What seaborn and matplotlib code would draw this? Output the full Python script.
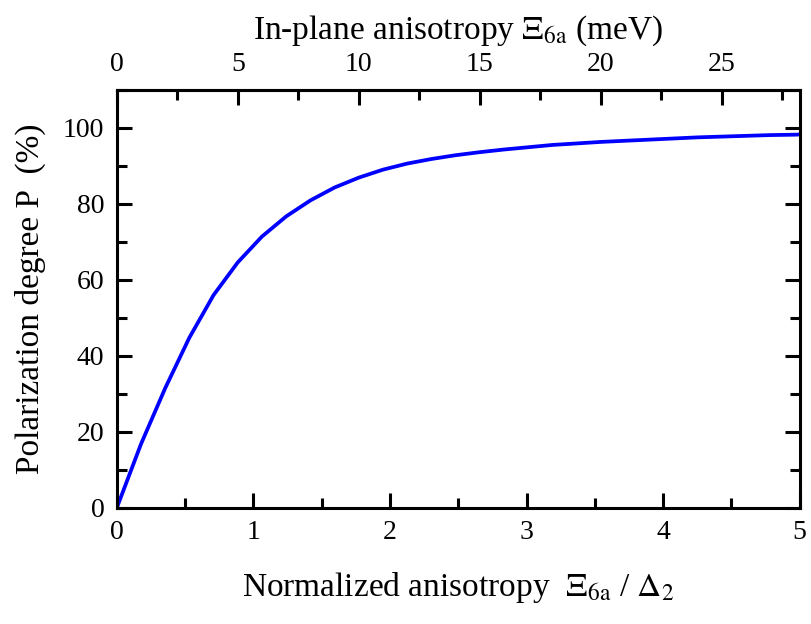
import numpy as np
import pandas as pd
import matplotlib
matplotlib.use('Agg')
import matplotlib.pyplot as plt
import seaborn as sns
from matplotlib.ticker import MultipleLocator, FixedLocator

# 曲线数据：按 1 meV 步长读取（最后一点到右边界）
xi_mev = [0, 1, 2, 3, 4, 5, 6, 7, 8, 9, 10, 11, 12, 13, 14, 15, 16, 17, 18, 19,
          20, 21, 22, 23, 24, 25, 26, 27, 28, 28.225]
pol_deg = [0, 16.8, 31.5, 44.8, 56.0, 64.6, 71.4, 76.7, 80.9, 84.3, 86.9, 89.0,
           90.6, 91.8, 92.8, 93.6, 94.3, 94.9, 95.5, 95.9, 96.3, 96.6, 96.9,
           97.2, 97.5, 97.7, 97.9, 98.1, 98.2, 98.25]
top_ticks = [0, 5, 10, 15, 20, 25]
delta2_mev = 5.645  # Δ2，上下坐标换算

df = pd.DataFrame({'meV': xi_mev, 'P': pol_deg})
df['norm'] = df['meV'] / delta2_mev

sns.set_theme(style='ticks')
plt.rcParams['font.family'] = ['Liberation Serif', 'DejaVu Serif']
plt.rcParams['mathtext.fontset'] = 'stix'
plt.rcParams['axes.linewidth'] = 2.2
plt.rcParams['text.color'] = 'black'
plt.rcParams['axes.labelcolor'] = 'black'
plt.rcParams['xtick.color'] = 'black'
plt.rcParams['ytick.color'] = 'black'

fig, ax = plt.subplots(figsize=(8.11, 6.24), dpi=100)
fig.subplots_adjust(left=0.144, right=0.986, top=0.856, bottom=0.186)

sns.lineplot(data=df, x='norm', y='P', color='#0000ff', lw=2.7, ax=ax)

ax.set_xlim(0, 5)
ax.set_ylim(0, 110)
ax.xaxis.set_major_locator(MultipleLocator(1))
ax.xaxis.set_minor_locator(MultipleLocator(0.5))
ax.yaxis.set_major_locator(MultipleLocator(20))
ax.yaxis.set_minor_locator(MultipleLocator(10))
ax.tick_params(which='both', direction='in', right=True, top=False,
               width=2.2, labelsize=20, pad=9)
ax.tick_params(which='major', length=11)
ax.tick_params(which='minor', length=7)
for s in ax.spines.values():
    s.set_visible(True)
    s.set_color('black')

ax.set_xlabel(r'Normalized anisotropy  $\Xi_{\mathrm{6a}}$ / $\Delta_2$',
              fontsize=24, labelpad=18)
ax.set_ylabel('Polarization degree P  (%)', fontsize=24, labelpad=12)

top = ax.secondary_xaxis('top', functions=(lambda x: x * delta2_mev,
                                           lambda m: m / delta2_mev))
top.xaxis.set_major_locator(FixedLocator(top_ticks))
top.xaxis.set_minor_locator(FixedLocator([t + 2.5 for t in top_ticks]))
top.tick_params(which='both', direction='in', width=2.2, labelsize=20, pad=9)
top.tick_params(which='major', length=11)
top.tick_params(which='minor', length=7)
top.set_xlabel(r'In-plane anisotropy $\Xi_{\mathrm{6a}}$ (meV)', fontsize=24, labelpad=10)

fig.savefig('out.png', dpi=100)
